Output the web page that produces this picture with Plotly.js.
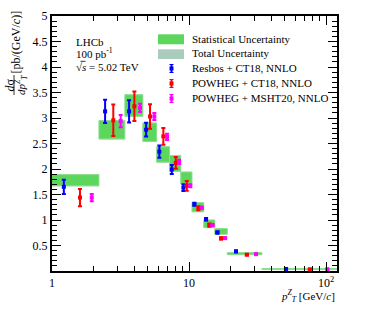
<!DOCTYPE html>
<html>
<head>
<meta charset="utf-8">
<script src="https://cdn.plot.ly/plotly-3.0.1.min.js"></script>
<style>html,body{margin:0;padding:0;background:#fff;}#chart{width:374px;height:322px;}</style>
</head>
<body>
<div id="chart"></div>
<script>
// ---- data ----
const binLo   = [0, 2.2, 3.4, 4.6, 5.8, 7.2, 8.7, 10.5, 12.8, 15.4, 19, 34];
const binHi   = [2.2, 3.4, 4.6, 5.8, 7.2, 8.7, 10.5, 12.8, 15.4, 19, 34, 270];
const dataVal = [1.78, 2.77, 3.245, 2.72, 2.285, 2.11, 1.825, 1.25, 0.925, 0.775, 0.34, 0.04];
const statErr = [0.11, 0.18, 0.21, 0.18, 0.15, 0.155, 0.115, 0.09, 0.075, 0.055, 0.02, 0.01];
const totErr  = [0.12, 0.19, 0.22, 0.19, 0.16, 0.165, 0.122, 0.095, 0.08, 0.06, 0.025, 0.012];

const resbosX   = [1.22, 2.44, 3.65, 4.86, 6.07, 7.48, 9.09, 10.93, 13.3, 16.1, 22.0, 51];
const resbosY   = [1.65, 3.13, 3.13, 2.77, 2.34, 1.99, 1.635, 1.31, 1.016, 0.755, 0.385, 0.04];
const resbosErr = [0.14, 0.23, 0.22, 0.135, 0.12, 0.09, 0.065, 0.03, 0.025, 0.02, 0.015, 0.005];

const ct18X   = [1.60, 2.80, 3.99, 5.19, 6.49, 8.0, 9.62, 11.69, 14.07, 17.1, 26.4, 76];
const ct18Y   = [1.44, 2.955, 3.23, 3.03, 2.64, 2.12, 1.67, 1.23, 0.90, 0.64, 0.32, 0.035];
const ct18Err = [0.17, 0.31, 0.29, 0.24, 0.165, 0.115, 0.095, 0.04, 0.03, 0.02, 0.01, 0.005];

const mshtX   = [1.95, 3.17, 4.39, 5.58, 6.91, 8.45, 10.2, 12.38, 14.8, 18.3, 30.8, 102];
const mshtY   = [1.44, 2.94, 3.20, 3.03, 2.63, 2.14, 1.67, 1.24, 0.90, 0.645, 0.33, 0.035];
const mshtErr = [0.07, 0.12, 0.08, 0.07, 0.06, 0.04, 0.03, 0.02, 0.02, 0.015, 0.01, 0.005];

const xTickVals = [1, 10, 100];
const xTickText = ['1', '10', '10<sup>2</sup>'];
const xMinorVals = [2,3,4,5,6,7,8,9,20,30,40,50,60,70,80,90];
const yTickVals = [0.5, 1, 1.5, 2, 2.5, 3, 3.5, 4, 4.5, 5];
const yTickText = ['0.5', '1', '1.5', '2', '2.5', '3', '3.5', '4', '4.5', '5'];

// ---- build boxes ----
function boxes(err) {
  const xs = [], ys = [];
  for (let i = 0; i < dataVal.length; i++) {
    const lo = Math.max(binLo[i], 0.5), hi = binHi[i];
    const y0 = dataVal[i] - err[i], y1 = dataVal[i] + err[i];
    xs.push(lo, hi, hi, lo, lo, null);
    ys.push(y0, y0, y1, y1, y0, null);
  }
  return {x: xs, y: ys};
}
const tb = boxes(totErr), sb = boxes(statErr);

function pts(x, y, e, color) {
  return {
    type: 'scatter', mode: 'markers', x: x, y: y, showlegend: false,
    marker: {symbol: 'square', size: 4, color: color},
    error_y: {type: 'data', array: e, visible: true, color: color, thickness: 2, width: 2},
    cliponaxis: true, hoverinfo: 'skip'
  };
}

const traces = [
  {type: 'scatter', mode: 'lines', x: tb.x, y: tb.y, fill: 'toself', fillcolor: '#a9ccbd',
   line: {width: 0}, showlegend: false, hoverinfo: 'skip'},
  {type: 'scatter', mode: 'lines', x: sb.x, y: sb.y, fill: 'toself', fillcolor: '#5cd65c',
   line: {width: 1, color: '#8fdf8f'}, showlegend: false, hoverinfo: 'skip'},
  pts(resbosX, resbosY, resbosErr, '#0000ff'),
  pts(ct18X, ct18Y, ct18Err, '#ff0000'),
  pts(mshtX, mshtY, mshtErr, '#ff00ff')
];

// pixel -> paper helpers (plot area 52..337 x 16..271)
const L = 52, R = 337, T = 16, B = 271;
const px = v => (v - L) / (R - L);
const py = v => (B - v) / (B - T);

const FONT = 'Liberation Serif, Times New Roman, serif';
const shapes = [];
const annotations = [];

// legend swatches
shapes.push({type: 'rect', xref: 'paper', yref: 'paper', x0: px(158), x1: px(184), y0: py(44.3), y1: py(34.3),
  fillcolor: '#5cd65c', line: {width: 0}});
shapes.push({type: 'rect', xref: 'paper', yref: 'paper', x0: px(158), x1: px(184), y0: py(59), y1: py(49.3),
  fillcolor: '#a9ccbd', line: {width: 0}});
const legErr = [[68.5, '#0000ff'], [83.5, '#ff0000'], [98.5, '#ff00ff']];
legErr.forEach(([cy, c]) => {
  const cx = 171.5;
  shapes.push({type: 'line', xref: 'paper', yref: 'paper', x0: px(cx), x1: px(cx), y0: py(cy - 4), y1: py(cy + 4), line: {color: c, width: 2}});
  shapes.push({type: 'line', xref: 'paper', yref: 'paper', x0: px(cx - 2), x1: px(cx + 2), y0: py(cy - 4), y1: py(cy - 4), line: {color: c, width: 1}});
  shapes.push({type: 'line', xref: 'paper', yref: 'paper', x0: px(cx - 2), x1: px(cx + 2), y0: py(cy + 4), y1: py(cy + 4), line: {color: c, width: 1}});
  shapes.push({type: 'rect', xref: 'paper', yref: 'paper', x0: px(cx - 2), x1: px(cx + 2), y0: py(cy + 2), y1: py(cy - 2), fillcolor: c, line: {width: 0}});
});
const legText = [[39, 'Statistical Uncertainty'], [53.3, 'Total Uncertainty'], [68.3, 'Resbos + CT18, NNLO'],
                 [83.3, 'POWHEG + CT18, NNLO'], [98.3, 'POWHEG + MSHT20, NNLO']];
legText.forEach(([y, t]) => annotations.push({xref: 'paper', yref: 'paper', x: px(190), y: py(y), xanchor: 'left', yanchor: 'middle',
  text: t, showarrow: false, font: {family: FONT, size: 11, color: '#000'}}));

// LHCb labels
const lhcb = [[41.7, 'LHCb'], [53.3, '100 pb<sup>-1</sup>'], [66.7, '√<i>s</i> = 5.02 TeV']];
lhcb.forEach(([y, t]) => annotations.push({xref: 'paper', yref: 'paper', x: px(74), y: py(y), xanchor: 'left', yanchor: 'middle',
  text: t, showarrow: false, font: {family: FONT, size: 11, color: '#000'}}));
shapes.push({type: 'line', xref: 'paper', yref: 'paper', x0: px(80.5), x1: px(85.5), y0: py(61.3), y1: py(61.3), line: {color: '#000', width: 0.8}});

// y title (fraction) rotated
annotations.push({xref: 'paper', yref: 'paper', x: px(16), y: py(42.5), xanchor: 'center', yanchor: 'middle', textangle: -90, text: '[pb/(GeV/<i>c</i>)]',
  showarrow: false, font: {family: FONT, size: 12, color: '#000'}});
annotations.push({xref: 'paper', yref: 'paper', x: px(9.5), y: py(85), xanchor: 'center', yanchor: 'middle', textangle: -90, text: '<i>d</i>σ',
  showarrow: false, font: {family: FONT, size: 12, color: '#000'}});
annotations.push({xref: 'paper', yref: 'paper', x: px(21), y: py(85), xanchor: 'center', yanchor: 'middle', textangle: -90, text: '<i>dp</i><sup><i>Z</i></sup><sub><i>T</i></sub>',
  showarrow: false, font: {family: FONT, size: 11, color: '#000'}});
shapes.push({type: 'line', xref: 'paper', yref: 'paper', x0: px(14), x1: px(14), y0: py(75), y1: py(95), line: {color: '#000', width: 0.8}});

// x title
annotations.push({xref: 'paper', yref: 'paper', x: 1, y: py(296), xanchor: 'right', yanchor: 'middle',
  text: '<i>p</i><sup><i>Z</i></sup><sub><i>T</i></sub> [GeV/<i>c</i>]', showarrow: false, font: {family: FONT, size: 11, color: '#000'}});

const layout = {
  width: 374, height: 322,
  margin: {l: L, r: 374 - R, t: T, b: 322 - B, pad: 0},
  paper_bgcolor: '#fff', plot_bgcolor: '#fff',
  font: {family: FONT, size: 12, color: '#000'},
  showlegend: false,
  xaxis: {
    type: 'log', range: [0, Math.log10(120)],
    tickmode: 'array', tickvals: xTickVals, ticktext: xTickText,
    ticks: 'inside', ticklen: 9, tickwidth: 1, tickcolor: '#000',
    minor: {tickmode: 'array', tickvals: xMinorVals, ticks: 'inside', ticklen: 5, tickwidth: 1, tickcolor: '#000'},
    showline: true, linecolor: '#000', linewidth: 2, mirror: 'allticks',
    showgrid: false, zeroline: false, automargin: false,
    tickfont: {family: FONT, size: 12, color: '#000'}
  },
  yaxis: {
    range: [0, 5], tickmode: 'array', tickvals: yTickVals, ticktext: yTickText,
    ticks: 'inside', ticklen: 9, tickwidth: 1, tickcolor: '#000',
    minor: {dtick: 0.1, tick0: 0, ticks: 'inside', ticklen: 5, tickwidth: 1, tickcolor: '#000'},
    showline: true, linecolor: '#000', linewidth: 2, mirror: 'allticks',
    showgrid: false, zeroline: false, automargin: false,
    tickfont: {family: FONT, size: 12, color: '#000'}
  },
  shapes: shapes,
  annotations: annotations
};

Plotly.newPlot('chart', traces, layout, {staticPlot: true, displayModeBar: false});
</script>
</body>
</html>
